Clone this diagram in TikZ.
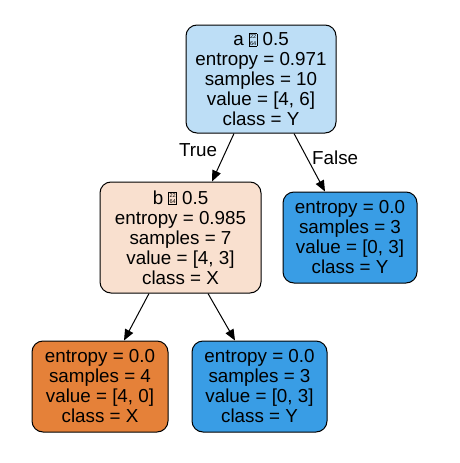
\documentclass[tikz,border=0pt]{standalone}
\usepackage{fontspec}
\setmainfont{Liberation Sans}
\usetikzlibrary{arrows.meta}
\definecolor{rootblue}{HTML}{BDDEF6}
\definecolor{peach}{HTML}{F9E0CF}
\definecolor{leafblue}{HTML}{399DE5}
\definecolor{leaforange}{HTML}{E58139}
\newcommand{\hexle}{\raisebox{0.3pt}{\fboxsep=0.5pt\fboxrule=0.6pt\fbox{\fontsize{5.6}{6.6}\selectfont\shortstack{22\\64}}}}
\tikzset{
  treenode/.style={draw=black, line width=1pt, rounded corners=11pt, align=center,
    inner sep=0pt, font=\fontsize{18.8}{20}\selectfont, text=black},
  edge/.style={draw=black, line width=1pt, -{Triangle[length=11pt,width=9pt]}},
  elabel/.style={font=\fontsize{18.8}{20}\selectfont, inner sep=0pt}
}
\begin{document}
\begin{tikzpicture}[x=1pt,y=-1pt]
\useasboundingbox (0,0) rectangle (459,463);
\node[treenode, fill=rootblue, minimum width=150pt, minimum height=108pt] (root) at (261,79)
  {a\ \hexle\ 0.5\\entropy = 0.971\\samples = 10\\value = [4, 6]\\class = Y};
\node[treenode, fill=peach, minimum width=161pt, minimum height=111pt] (b) at (180.5,237.5)
  {b\ \hexle\ 0.5\\entropy = 0.985\\samples = 7\\value = [4, 3]\\class = X};
\node[treenode, fill=leafblue, minimum width=134pt, minimum height=91pt] (r) at (350,237.5)
  {entropy = 0.0\\samples = 3\\value = [0, 3]\\class = Y};
\node[treenode, fill=leaforange, minimum width=136pt, minimum height=91pt] (bl) at (100,386.5)
  {entropy = 0.0\\samples = 4\\value = [4, 0]\\class = X};
\node[treenode, fill=leafblue, minimum width=135pt, minimum height=91pt] (br) at (259.5,386.5)
  {entropy = 0.0\\samples = 3\\value = [0, 3]\\class = Y};
\draw[edge] ([xshift=-27pt]root.south) -- ([xshift=31.5pt]b.north);
\draw[edge] ([xshift=33pt]root.south) -- ([xshift=-25pt]r.north);
\draw[edge] ([xshift=-31.5pt]b.south) -- ([xshift=24pt]bl.north);
\draw[edge] ([xshift=27.5pt]b.south) -- ([xshift=-24.5pt]br.north);
\node[elabel] (t) at (198,150) {True};
\node[elabel, anchor=west] (f) at (312,158) {False};
\end{tikzpicture}
\end{document}
